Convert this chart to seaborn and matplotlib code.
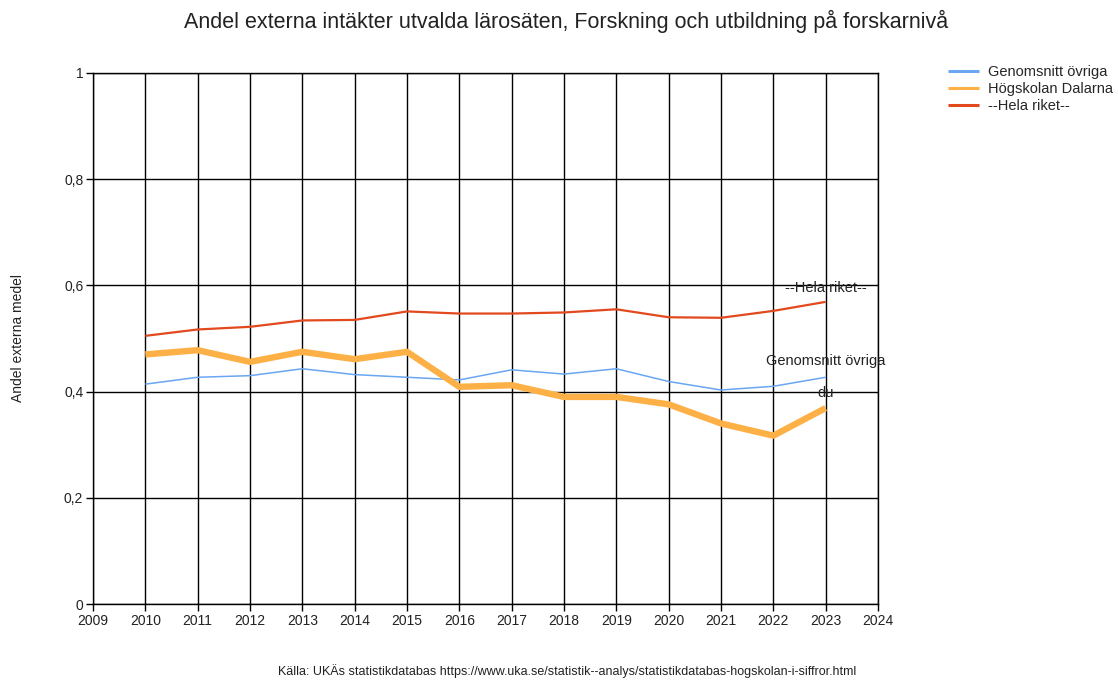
import pandas as pd
import numpy as np
import matplotlib.pyplot as plt
import seaborn as sns
from matplotlib.ticker import FuncFormatter

# Data
years = [2010, 2011, 2012, 2013, 2014, 2015, 2016, 2017, 2018, 2019, 2020, 2021, 2022, 2023]
genomsnitt_ovriga = [0.414, 0.427, 0.430, 0.443, 0.432, 0.427, 0.422, 0.441, 0.433, 0.443, 0.419, 0.403, 0.410, 0.427]
hogskolan_dalarna = [0.470, 0.478, 0.456, 0.475, 0.461, 0.475, 0.409, 0.412, 0.390, 0.390, 0.376, 0.340, 0.317, 0.369]
hela_riket = [0.505, 0.517, 0.522, 0.534, 0.535, 0.551, 0.547, 0.547, 0.549, 0.555, 0.540, 0.539, 0.552, 0.569]

series_names = ["Genomsnitt övriga", "Högskolan Dalarna", "--Hela riket--"]
series_values = [genomsnitt_ovriga, hogskolan_dalarna, hela_riket]
colors = ["#6aa6f2", "#fdb046", "#e2491d"]
widths = [1.1, 4.6, 1.6]

df = pd.DataFrame({"year": years})
for name, vals in zip(series_names, series_values):
    df[name] = vals
long_df = df.melt(id_vars="year", var_name="serie", value_name="andel")

sns.set_style("white")
plt.rcParams["font.family"] = ["Liberation Sans", "DejaVu Sans"]

fig = plt.figure(figsize=(11.18, 6.8), dpi=100)
ax = fig.add_axes([93 / 1118, 1 - 604 / 680, (878 - 93) / 1118, (604 - 73) / 680])

for name, col, lw in zip(series_names, colors, widths):
    sns.lineplot(data=long_df[long_df["serie"] == name], x="year", y="andel",
                 color=col, linewidth=lw, label=name, ax=ax,
                 solid_capstyle="butt", solid_joinstyle="round")

ax.set_xlim(2009, 2024)
ax.set_ylim(0, 1)
ax.set_xticks(range(2009, 2025))
ax.set_yticks([0, 0.2, 0.4, 0.6, 0.8, 1.0])
ax.yaxis.set_major_formatter(FuncFormatter(lambda v, p: f"{v:g}".replace(".", ",")))
ax.grid(True, color="black", linewidth=1.0)
ax.set_axisbelow(True)
for s in ax.spines.values():
    s.set_color("black")
    s.set_linewidth(1.0)
ax.tick_params(axis="both", which="major", length=5, width=1.0, color="black",
               labelsize=10, pad=2, direction="out", bottom=True, left=True,
               labelcolor="#222222")
ax.set_xlabel("")
ax.set_ylabel("Andel externa medel", fontsize=10, color="#222222")
ax.yaxis.set_label_coords(-0.086, 0.5)

# end-of-line labels
ax.text(2023, hela_riket[-1] + 0.027, "--Hela riket--", ha="center", va="center", fontsize=10.5, color="#222222")
ax.text(2023, genomsnitt_ovriga[-1] + 0.031, "Genomsnitt övriga", ha="center", va="center", fontsize=10.5, color="#222222")
ax.text(2023, hogskolan_dalarna[-1] + 0.028, "du", ha="center", va="center", fontsize=10.5, color="#222222")

leg = ax.legend(loc="upper left", bbox_to_anchor=(1.073, 1.04), frameon=False,
                fontsize=10.5, handlelength=2.1, handletextpad=0.6, labelspacing=0.22)
for line in leg.get_lines():
    line.set_linewidth(2.2)

fig.suptitle("Andel externa intäkter utvalda lärosäten, Forskning och utbildning på forskarnivå",
             x=0.506, y=0.985, fontsize=15.5, color="#222222")
fig.text(0.507, 0.003, "Källa: UKÄs statistikdatabas https://www.uka.se/statistik--analys/statistikdatabas-hogskolan-i-siffror.html",
         ha="center", va="bottom", fontsize=9, color="#222222")

fig.savefig("out.png", dpi=100)
